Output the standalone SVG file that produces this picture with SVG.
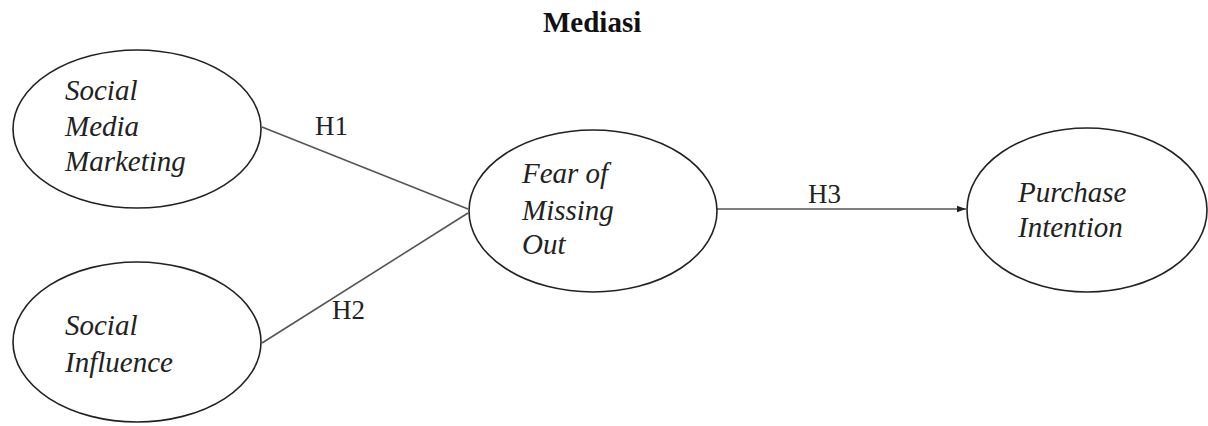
<svg xmlns="http://www.w3.org/2000/svg" width="1208" height="426" viewBox="0 0 1208 426">
<defs>
<style>
.node ellipse{fill:#fff;stroke:#222;stroke-width:1.6}
.lbl{font-family:"Liberation Serif","Times New Roman",serif;font-style:italic;font-size:29px;fill:#222}
.h{font-family:"Liberation Serif","Times New Roman",serif;font-size:27px;fill:#222}
.title{font-family:"Liberation Serif","Times New Roman",serif;font-weight:bold;font-size:29px;fill:#111}
.conn line{stroke:#555;stroke-width:1.6}
</style>
<marker id="arr" markerWidth="10" markerHeight="8" refX="9" refY="4" orient="auto" markerUnits="userSpaceOnUse">
<path d="M0,0.8 L9,4 L0,7.2 Z" fill="#222"/>
</marker>
</defs>
<rect width="1208" height="426" fill="#fff"/>
<text class="title" x="543" y="32">Mediasi</text>
<g id="connectors" class="conn">
<line x1="262" y1="127" x2="468" y2="209"/>
<line x1="262" y1="343" x2="468" y2="213"/>
<line x1="717" y1="209" x2="966" y2="209" stroke="#222" marker-end="url(#arr)"/>
<text class="h" x="315" y="135">H1</text>
<text class="h" x="332" y="319">H2</text>
<text class="h" x="808" y="203">H3</text>
</g>
<g id="smm" class="node">
<ellipse cx="137" cy="129" rx="124" ry="79"/>
<text class="lbl" x="65" y="100">Social</text>
<text class="lbl" x="65" y="136">Media</text>
<text class="lbl" x="65" y="171">Marketing</text>
</g>
<g id="si" class="node">
<ellipse cx="137" cy="342" rx="124" ry="80"/>
<text class="lbl" x="65" y="335">Social</text>
<text class="lbl" x="65" y="372">Influence</text>
</g>
<g id="fomo" class="node">
<ellipse cx="593" cy="211" rx="124" ry="81"/>
<text class="lbl" x="522" y="183">Fear of</text>
<text class="lbl" x="522" y="220">Missing</text>
<text class="lbl" x="522" y="254">Out</text>
</g>
<g id="pi" class="node">
<ellipse cx="1087" cy="210" rx="120" ry="82"/>
<text class="lbl" x="1018" y="202">Purchase</text>
<text class="lbl" x="1018" y="237">Intention</text>
</g>
</svg>
